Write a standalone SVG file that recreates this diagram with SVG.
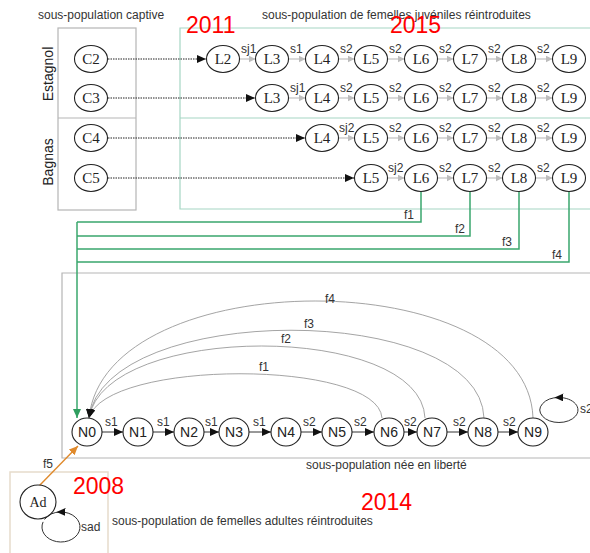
<svg xmlns="http://www.w3.org/2000/svg" width="590" height="553" viewBox="0 0 590 553">
<style>
.ns{fill:#fff;stroke:#222;stroke-width:1.1}
.tser{font-family:"Liberation Serif",serif;font-size:15px;fill:#222;text-anchor:middle}
.tsan{font-family:"Liberation Sans",sans-serif;font-size:14px;fill:#222;text-anchor:middle}
.lbl{font-family:"Liberation Sans",sans-serif;font-size:12px;fill:#333}
.title{font-family:"Liberation Sans",sans-serif;font-size:12px;fill:#333}
.side{font-family:"Liberation Sans",sans-serif;font-size:14px;fill:#222;text-anchor:middle}
.year{font-family:"Liberation Sans",sans-serif;font-size:23px;fill:#ff0000}
.dot{stroke:#222;stroke-width:1;stroke-dasharray:1.5 1;fill:none}
.ge{stroke:#c4c4c4;stroke-width:1.3;fill:none}
.be{stroke:#333;stroke-width:1;fill:none}
.gr{stroke:#3aa76d;stroke-width:1.5;fill:none}
.cv{stroke:#9a9a9a;stroke-width:0.9;fill:none}
.box{fill:none;stroke:#b5b5b5;stroke-width:1.2}
.tbox{fill:none;stroke:#a6d6c4;stroke-width:1.2}
</style>
<defs>
<marker id="mb" markerUnits="userSpaceOnUse" markerWidth="10" markerHeight="8" refX="9" refY="4" orient="auto"><path d="M0,0 L9,4 L0,8 z" fill="#111"/></marker>
<marker id="mg" markerUnits="userSpaceOnUse" markerWidth="8" markerHeight="7" refX="7" refY="3.5" orient="auto"><path d="M0,0 L7,3.5 L0,7 z" fill="#bdbdbd"/></marker>
<marker id="mgr" markerUnits="userSpaceOnUse" markerWidth="10" markerHeight="8" refX="9" refY="4" orient="auto"><path d="M0,0 L9,4 L0,8 z" fill="#2f9e5f"/></marker>
<marker id="mo" markerUnits="userSpaceOnUse" markerWidth="10" markerHeight="8" refX="9" refY="4" orient="auto"><path d="M0,0 L9,4 L0,8 z" fill="#e08a2c"/></marker>
<marker id="mm" markerUnits="userSpaceOnUse" markerWidth="10" markerHeight="8" refX="4.5" refY="4" orient="auto"><path d="M0,0 L9,4 L0,8 z" fill="#111"/></marker>
</defs>
<rect width="590" height="553" fill="#fff"/>

<g id="frames">
<rect class="box" x="58" y="28" width="78" height="182"/>
<line class="box" x1="58" y1="118" x2="136" y2="118"/>
<path class="tbox" d="M590,28 H180 V209 H590 M180,118 H590"/>
<path class="box" d="M590,273 H62 V458 H590"/>
<path d="M10,553 V472 H108 V553" fill="none" stroke="#e6dccb" stroke-width="1.5"/>
</g>

<g id="titles">
<text class="title" x="38" y="19">sous-population captive</text>
<text class="title" x="262" y="19">sous-population de femelles juvéniles réintroduites</text>
<text class="title" x="306" y="469">sous-population née en liberté</text>
<text class="title" x="112" y="525">sous-population de femelles adultes réintroduites</text>
<text class="side" transform="translate(53,74) rotate(-90)">Estagnol</text>
<text class="side" transform="translate(53,162) rotate(-90)">Bagnas</text>
<text class="year" x="186" y="33">2011</text>
<text class="year" x="390" y="33">2015</text>
<text class="year" x="73" y="494">2008</text>
<text class="year" x="361" y="510">2014</text>
</g>

<g id="connectors">
<!-- captive to juveniles -->
<line class="dot" x1="108" y1="59" x2="206" y2="59" marker-end="url(#mb)"/>
<line class="dot" x1="108" y1="98" x2="255" y2="98" marker-end="url(#mb)"/>
<line class="dot" x1="108" y1="138" x2="305" y2="138" marker-end="url(#mb)"/>
<line class="dot" x1="108" y1="178" x2="354" y2="178" marker-end="url(#mb)"/>
<!-- row 1 -->
<line class="ge" x1="239.5" y1="59" x2="255.5" y2="59" marker-end="url(#mg)"/>
<line class="ge" x1="288.5" y1="59" x2="305.5" y2="59" marker-end="url(#mg)"/>
<line class="ge" x1="338.5" y1="59" x2="354.5" y2="59" marker-end="url(#mg)"/>
<line class="ge" x1="387.5" y1="59" x2="404.5" y2="59" marker-end="url(#mg)"/>
<line class="ge" x1="437.5" y1="59" x2="453.5" y2="59" marker-end="url(#mg)"/>
<line class="ge" x1="486.5" y1="59" x2="502.5" y2="59" marker-end="url(#mg)"/>
<line class="ge" x1="535.5" y1="59" x2="552.5" y2="59" marker-end="url(#mg)"/>
<!-- row 2 -->
<line class="ge" x1="288.5" y1="98" x2="305.5" y2="98" marker-end="url(#mg)"/>
<line class="ge" x1="338.5" y1="98" x2="354.5" y2="98" marker-end="url(#mg)"/>
<line class="ge" x1="387.5" y1="98" x2="404.5" y2="98" marker-end="url(#mg)"/>
<line class="ge" x1="437.5" y1="98" x2="453.5" y2="98" marker-end="url(#mg)"/>
<line class="ge" x1="486.5" y1="98" x2="502.5" y2="98" marker-end="url(#mg)"/>
<line class="ge" x1="535.5" y1="98" x2="552.5" y2="98" marker-end="url(#mg)"/>
<!-- row 3 -->
<line class="ge" x1="338.5" y1="138" x2="354.5" y2="138" marker-end="url(#mg)"/>
<line class="ge" x1="387.5" y1="138" x2="404.5" y2="138" marker-end="url(#mg)"/>
<line class="ge" x1="437.5" y1="138" x2="453.5" y2="138" marker-end="url(#mg)"/>
<line class="ge" x1="486.5" y1="138" x2="502.5" y2="138" marker-end="url(#mg)"/>
<line class="ge" x1="535.5" y1="138" x2="552.5" y2="138" marker-end="url(#mg)"/>
<!-- row 4 -->
<line class="ge" x1="387.5" y1="178" x2="404.5" y2="178" marker-end="url(#mg)"/>
<line class="ge" x1="437.5" y1="178" x2="453.5" y2="178" marker-end="url(#mg)"/>
<line class="ge" x1="486.5" y1="178" x2="502.5" y2="178" marker-end="url(#mg)"/>
<line class="ge" x1="535.5" y1="178" x2="552.5" y2="178" marker-end="url(#mg)"/>
<!-- green release lines -->
<path class="gr" d="M421,191.5 V222 H77"/>
<path class="gr" d="M470,191.5 V236 H77"/>
<path class="gr" d="M519,191.5 V249 H77"/>
<path class="gr" d="M569,191.5 V262 H77"/>
<path class="gr" d="M77,222 V418" marker-end="url(#mgr)"/>
<!-- fecundity curves -->
<path class="cv" d="M382,418 C378,359 105,359 89,418" marker-end="url(#mb)"/>
<path class="cv" d="M425,418 C421,322 105,322 89,418" marker-end="url(#mb)"/>
<path class="cv" d="M484,418 C480,301 105,301 89,418" marker-end="url(#mb)"/>
<path class="cv" d="M533,418 C528,262 105,262 89,418" marker-end="url(#mb)"/>
<!-- born-free chain -->
<line class="be" x1="102" y1="432" x2="123" y2="432" marker-end="url(#mb)"/>
<line class="be" x1="153" y1="432" x2="174" y2="432" marker-end="url(#mb)"/>
<line class="be" x1="204" y1="432" x2="219" y2="432" marker-end="url(#mb)"/>
<line class="be" x1="249" y1="432" x2="271" y2="432" marker-end="url(#mb)"/>
<line class="be" x1="301" y1="432" x2="322" y2="432" marker-end="url(#mb)"/>
<line class="be" x1="352" y1="432" x2="374" y2="432" marker-end="url(#mb)"/>
<line class="be" x1="404" y1="432" x2="417" y2="432" marker-end="url(#mb)"/>
<line class="be" x1="447" y1="432" x2="468" y2="432" marker-end="url(#mb)"/>
<line class="be" x1="498" y1="432" x2="518" y2="432" marker-end="url(#mb)"/>
<path class="be" d="M542.5,416.25 A19,12.5 0 1,0 559,397.5 A19,12.5 0 0,0 542.5,416.25" marker-mid="url(#mm)"/>
<!-- adults -->
<line x1="39" y1="486" x2="78" y2="446" stroke="#e08a2c" stroke-width="1.4" marker-end="url(#mo)"/>
<path class="be" d="M43.1,521.9 A19,15 0 1,0 61,512 A19,15 0 0,0 44.5,519.5" marker-mid="url(#mm)"/>
<!-- labels -->
<g class="lbl">
<text x="241" y="53">sj1</text><text x="290" y="53">s1</text><text x="340" y="53">s2</text><text x="389" y="53">s2</text><text x="439" y="53">s2</text><text x="488" y="53">s2</text><text x="537" y="53">s2</text>
<text x="290" y="92">sj1</text><text x="340" y="92">s2</text><text x="389" y="92">s2</text><text x="439" y="92">s2</text><text x="488" y="92">s2</text><text x="537" y="92">s2</text>
<text x="339" y="132">sj2</text><text x="389" y="132">s2</text><text x="439" y="132">s2</text><text x="488" y="132">s2</text><text x="537" y="132">s2</text>
<text x="388" y="172">sj2</text><text x="439" y="172">s2</text><text x="488" y="172">s2</text><text x="537" y="172">s2</text>
<text x="404" y="219">f1</text><text x="455" y="233">f2</text><text x="502" y="246">f3</text><text x="552" y="259">f4</text>
<text x="259" y="371">f1</text><text x="281" y="343">f2</text><text x="304" y="328">f3</text><text x="325" y="303">f4</text>
<text x="105" y="426">s1</text><text x="157" y="426">s1</text><text x="205" y="426">s1</text><text x="253" y="426">s1</text>
<text x="303" y="426">s2</text><text x="354" y="426">s2</text><text x="404" y="426">s2</text><text x="453" y="426">s2</text><text x="503" y="426">s2</text>
<text x="580" y="413">s2</text>
<text x="43" y="468">f5</text>
<text x="81" y="531">sad</text>
</g>
</g>

<g id="c2"><ellipse class="ns" cx="91" cy="59" rx="16.5" ry="13.5"/><text class="tser" x="91" y="64">C2</text></g>
<g id="c3"><ellipse class="ns" cx="91" cy="98" rx="16.5" ry="13.5"/><text class="tser" x="91" y="103">C3</text></g>
<g id="c4"><ellipse class="ns" cx="91" cy="138" rx="16.5" ry="13.5"/><text class="tser" x="91" y="143">C4</text></g>
<g id="c5"><ellipse class="ns" cx="91" cy="178" rx="16.5" ry="13.5"/><text class="tser" x="91" y="183">C5</text></g>

<g id="r1-l2"><ellipse class="ns" cx="223" cy="59" rx="16.5" ry="13.5"/><text class="tser" x="223" y="64">L2</text></g>
<g id="r1-l3"><ellipse class="ns" cx="272" cy="59" rx="16.5" ry="13.5"/><text class="tser" x="272" y="64">L3</text></g>
<g id="r1-l4"><ellipse class="ns" cx="322" cy="59" rx="16.5" ry="13.5"/><text class="tser" x="322" y="64">L4</text></g>
<g id="r1-l5"><ellipse class="ns" cx="371" cy="59" rx="16.5" ry="13.5"/><text class="tser" x="371" y="64">L5</text></g>
<g id="r1-l6"><ellipse class="ns" cx="421" cy="59" rx="16.5" ry="13.5"/><text class="tser" x="421" y="64">L6</text></g>
<g id="r1-l7"><ellipse class="ns" cx="470" cy="59" rx="16.5" ry="13.5"/><text class="tser" x="470" y="64">L7</text></g>
<g id="r1-l8"><ellipse class="ns" cx="519" cy="59" rx="16.5" ry="13.5"/><text class="tser" x="519" y="64">L8</text></g>
<g id="r1-l9"><ellipse class="ns" cx="569" cy="59" rx="16.5" ry="13.5"/><text class="tser" x="569" y="64">L9</text></g>

<g id="r2-l3"><ellipse class="ns" cx="272" cy="98" rx="16.5" ry="13.5"/><text class="tser" x="272" y="103">L3</text></g>
<g id="r2-l4"><ellipse class="ns" cx="322" cy="98" rx="16.5" ry="13.5"/><text class="tser" x="322" y="103">L4</text></g>
<g id="r2-l5"><ellipse class="ns" cx="371" cy="98" rx="16.5" ry="13.5"/><text class="tser" x="371" y="103">L5</text></g>
<g id="r2-l6"><ellipse class="ns" cx="421" cy="98" rx="16.5" ry="13.5"/><text class="tser" x="421" y="103">L6</text></g>
<g id="r2-l7"><ellipse class="ns" cx="470" cy="98" rx="16.5" ry="13.5"/><text class="tser" x="470" y="103">L7</text></g>
<g id="r2-l8"><ellipse class="ns" cx="519" cy="98" rx="16.5" ry="13.5"/><text class="tser" x="519" y="103">L8</text></g>
<g id="r2-l9"><ellipse class="ns" cx="569" cy="98" rx="16.5" ry="13.5"/><text class="tser" x="569" y="103">L9</text></g>

<g id="r3-l4"><ellipse class="ns" cx="322" cy="138" rx="16.5" ry="13.5"/><text class="tser" x="322" y="143">L4</text></g>
<g id="r3-l5"><ellipse class="ns" cx="371" cy="138" rx="16.5" ry="13.5"/><text class="tser" x="371" y="143">L5</text></g>
<g id="r3-l6"><ellipse class="ns" cx="421" cy="138" rx="16.5" ry="13.5"/><text class="tser" x="421" y="143">L6</text></g>
<g id="r3-l7"><ellipse class="ns" cx="470" cy="138" rx="16.5" ry="13.5"/><text class="tser" x="470" y="143">L7</text></g>
<g id="r3-l8"><ellipse class="ns" cx="519" cy="138" rx="16.5" ry="13.5"/><text class="tser" x="519" y="143">L8</text></g>
<g id="r3-l9"><ellipse class="ns" cx="569" cy="138" rx="16.5" ry="13.5"/><text class="tser" x="569" y="143">L9</text></g>

<g id="r4-l5"><ellipse class="ns" cx="371" cy="178" rx="16.5" ry="13.5"/><text class="tser" x="371" y="183">L5</text></g>
<g id="r4-l6"><ellipse class="ns" cx="421" cy="178" rx="16.5" ry="13.5"/><text class="tser" x="421" y="183">L6</text></g>
<g id="r4-l7"><ellipse class="ns" cx="470" cy="178" rx="16.5" ry="13.5"/><text class="tser" x="470" y="183">L7</text></g>
<g id="r4-l8"><ellipse class="ns" cx="519" cy="178" rx="16.5" ry="13.5"/><text class="tser" x="519" y="183">L8</text></g>
<g id="r4-l9"><ellipse class="ns" cx="569" cy="178" rx="16.5" ry="13.5"/><text class="tser" x="569" y="183">L9</text></g>

<g id="n0"><ellipse class="ns" cx="87" cy="432" rx="15" ry="14"/><text class="tsan" x="87" y="437">N0</text></g>
<g id="n1"><ellipse class="ns" cx="138" cy="432" rx="15" ry="14"/><text class="tsan" x="138" y="437">N1</text></g>
<g id="n2"><ellipse class="ns" cx="189" cy="432" rx="15" ry="14"/><text class="tsan" x="189" y="437">N2</text></g>
<g id="n3"><ellipse class="ns" cx="234" cy="432" rx="15" ry="14"/><text class="tsan" x="234" y="437">N3</text></g>
<g id="n4"><ellipse class="ns" cx="286" cy="432" rx="15" ry="14"/><text class="tsan" x="286" y="437">N4</text></g>
<g id="n5"><ellipse class="ns" cx="337" cy="432" rx="15" ry="14"/><text class="tsan" x="337" y="437">N5</text></g>
<g id="n6"><ellipse class="ns" cx="389" cy="432" rx="15" ry="14"/><text class="tsan" x="389" y="437">N6</text></g>
<g id="n7"><ellipse class="ns" cx="432" cy="432" rx="15" ry="14"/><text class="tsan" x="432" y="437">N7</text></g>
<g id="n8"><ellipse class="ns" cx="483" cy="432" rx="15" ry="14"/><text class="tsan" x="483" y="437">N8</text></g>
<g id="n9"><ellipse class="ns" cx="533" cy="432" rx="15" ry="14"/><text class="tsan" x="533" y="437">N9</text></g>

<g id="ad"><ellipse class="ns" cx="38" cy="502" rx="18" ry="17"/><text class="tser" x="38" y="507" style="font-size:14px">Ad</text></g>
</svg>
